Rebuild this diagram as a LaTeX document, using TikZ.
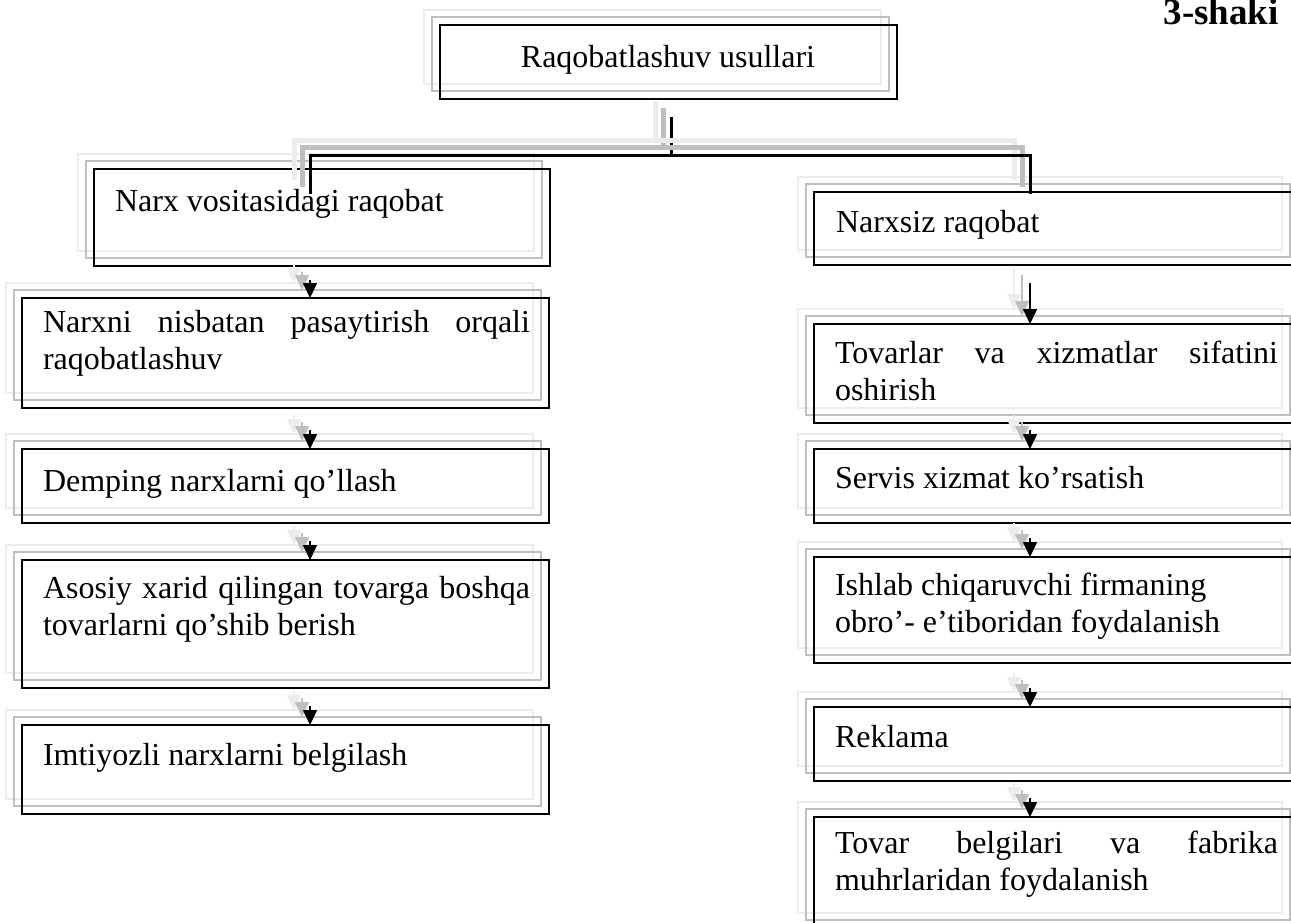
\documentclass[tikz,border=0pt]{standalone}
\usepackage{fontspec}
\setmainfont{Liberation Serif}
\usetikzlibrary{arrows.meta,calc,shadows}
\newcommand\shdraw[3]{%
  \draw[#1,draw=gray!15,line width=#2,transform canvas={shift={(-16pt,15pt)}}] #3;
  \draw[#1,draw=gray!50,line width=#2,transform canvas={shift={(-8pt,8pt)}}] #3;
  \draw[#1] #3;}
\newcommand\jtext[2]{\parbox[t]{#1}{\tolerance=10000\hyphenpenalty=10000\exhyphenpenalty=10000 #2}}
\begin{document}
\begin{tikzpicture}[x=1pt,y=-1pt,
  box/.style={draw=black, line width=1.6pt, inner sep=0pt, outer sep=0pt, anchor=north west,
    general shadow={shadow xshift=-16pt, shadow yshift=15pt, draw=gray!15, line width=2pt, fill=none},
    general shadow={shadow xshift=-8pt, shadow yshift=8pt, draw=gray!50, line width=1.3pt, fill=none}},
  txt/.style={inner sep=0pt, outer sep=0pt, font=\fontsize{32}{37}\selectfont},
  conn/.style={line width=3pt, line join=miter, line cap=rect},
  arr/.style={line width=1.5pt, -{Triangle[length=15pt,width=14pt]}}]
\useasboundingbox (0,0) rectangle (1291,922);

% boxes
\node[box, minimum width=457pt, minimum height=74pt] (top) at (440,25) {};
\node[box, minimum width=456pt, minimum height=97pt] (narx) at (94,169) {};
\node[box, minimum width=484pt, minimum height=73pt] (narxsiz) at (814,192) {};
\node[box, minimum width=527pt, minimum height=110pt] (narxni) at (22,298) {};
\node[box, minimum width=527pt, minimum height=74pt] (demping) at (22,449) {};
\node[box, minimum width=527pt, minimum height=128pt] (asosiy) at (22,560) {};
\node[box, minimum width=527pt, minimum height=89pt] (imtiyoz) at (22,725) {};
\node[box, minimum width=484pt, minimum height=99pt] (tovarlar) at (814,324) {};
\node[box, minimum width=484pt, minimum height=74pt] (servis) at (814,449) {};
\node[box, minimum width=484pt, minimum height=106pt] (ishlab) at (814,557) {};
\node[box, minimum width=484pt, minimum height=74pt] (reklama) at (814,707) {};
\node[box, minimum width=484pt, minimum height=111pt] (tovar) at (814,817) {};

% texts
\node[inner sep=0pt, anchor=base east, font=\bfseries\fontsize{37}{44}\selectfont] (title) at (1279,24) {3-shaki};
\node[txt, anchor=base] (top-t) at (668,67) {Raqobatlashuv usullari};
\node[txt, anchor=base west] (narx-t) at (115,211) {Narx vositasidagi raqobat};
\node[txt, anchor=base west] (narxsiz-t) at (836,232) {Narxsiz raqobat};
\node[txt, anchor=base west] (narxni-t) at (43,332) {\jtext{487pt}{Narxni nisbatan pasaytirish orqali raqobatlashuv}};
\node[txt, anchor=base west] (demping-t) at (43,491) {Demping narxlarni qo’llash};
\node[txt, anchor=base west] (asosiy-t) at (43,598) {\jtext{487pt}{Asosiy xarid qilingan tovarga boshqa tovarlarni qo’shib berish}};
\node[txt, anchor=base west] (imtiyoz-t) at (43,765) {Imtiyozli narxlarni belgilash};
\node[txt, anchor=base west] (tovarlar-t) at (835,363) {\jtext{443pt}{Tovarlar va xizmatlar sifatini oshirish}};
\node[txt, anchor=base west] (servis-t) at (835,488) {Servis xizmat ko’rsatish};
\node[txt, anchor=base west] (ishlab-t) at (835,595) {\parbox[t]{443pt}{\raggedright Ishlab chiqaruvchi firmaning\\obro’- e’tiboridan foydalanish}};
\node[txt, anchor=base west] (reklama-t) at (835,747) {Reklama};
\node[txt, anchor=base west] (tovar-t) at (835,853) {\jtext{443pt}{Tovar belgilari va fabrika muhrlaridan foydalanish}};

% connectors
\coordinate (j) at (671,155);
\coordinate (lx) at (310,0);
\coordinate (rx) at (1030,0);
\shdraw{conn}{5pt}{($(top.south -| j)+(0,-19pt)$) -- (j)}
\shdraw{conn}{5pt}{($(narx.north -| lx)+(0,-23pt)$) |- (j) -| (narxsiz.north -| rx)}

% arrows
\shdraw{arr}{1.5pt}{($(narx.south -| lx)+(0,-14pt)$) -- (narxni.north -| lx)}
\shdraw{arr}{1.5pt}{($(narxni.south -| lx)+(0,-22pt)$) -- (demping.north -| lx)}
\shdraw{arr}{1.5pt}{($(demping.south -| lx)+(0,-18pt)$) -- (asosiy.north -| lx)}
\shdraw{arr}{1.5pt}{($(asosiy.south -| lx)+(0,-18pt)$) -- (imtiyoz.north -| lx)}
\shdraw{arr}{1.5pt}{($(narxsiz.south -| rx)+(0,-18pt)$) -- (tovarlar.north -| rx)}
\shdraw{arr}{1.5pt}{($(tovarlar.south -| rx)+(0,-7pt)$) -- (servis.north -| rx)}
\shdraw{arr}{1.5pt}{($(servis.south -| rx)+(0,-15pt)$) -- (ishlab.north -| rx)}
\shdraw{arr}{1.5pt}{($(ishlab.south -| rx)+(0,-25pt)$) -- (reklama.north -| rx)}
\shdraw{arr}{1.5pt}{($(reklama.south -| rx)+(0,-17pt)$) -- (tovar.north -| rx)}
\end{tikzpicture}
\end{document}
